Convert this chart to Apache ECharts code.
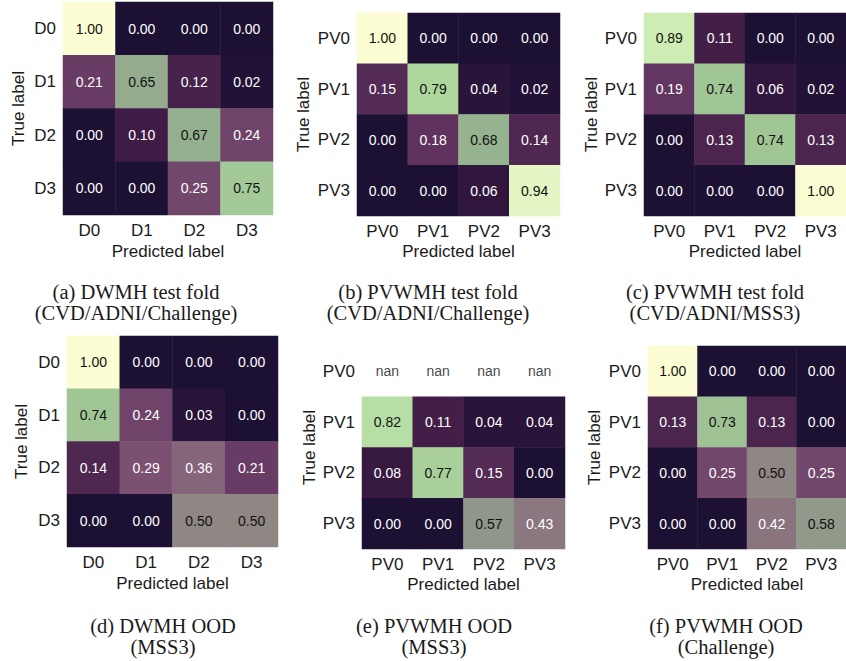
<!DOCTYPE html>
<html>
<head>
<meta charset="utf-8">
<script src="https://cdn.jsdelivr.net/npm/echarts@6/dist/echarts.min.js"></script>
<style>
html,body{margin:0;padding:0;background:#fff;}
#chart{width:846px;height:661px;}
</style>
</head>
<body>
<div id="chart"></div>
<script>
// ---- data ----
const dLabels = ['D0', 'D1', 'D2', 'D3'];
const pvLabels = ['PV0', 'PV1', 'PV2', 'PV3'];

const dwmhTest = [
  [1.00, 0.00, 0.00, 0.00],
  [0.21, 0.65, 0.12, 0.02],
  [0.00, 0.10, 0.67, 0.24],
  [0.00, 0.00, 0.25, 0.75]
];
const pvwmhTestChallenge = [
  [1.00, 0.00, 0.00, 0.00],
  [0.15, 0.79, 0.04, 0.02],
  [0.00, 0.18, 0.68, 0.14],
  [0.00, 0.00, 0.06, 0.94]
];
const pvwmhTestMss3 = [
  [0.89, 0.11, 0.00, 0.00],
  [0.19, 0.74, 0.06, 0.02],
  [0.00, 0.13, 0.74, 0.13],
  [0.00, 0.00, 0.00, 1.00]
];
const dwmhOodMss3 = [
  [1.00, 0.00, 0.00, 0.00],
  [0.74, 0.24, 0.03, 0.00],
  [0.14, 0.29, 0.36, 0.21],
  [0.00, 0.00, 0.50, 0.50]
];
const pvwmhOodMss3 = [
  [NaN, NaN, NaN, NaN],
  [0.82, 0.11, 0.04, 0.04],
  [0.08, 0.77, 0.15, 0.00],
  [0.00, 0.00, 0.57, 0.43]
];
const pvwmhOodChallenge = [
  [1.00, 0.00, 0.00, 0.00],
  [0.13, 0.73, 0.13, 0.00],
  [0.00, 0.25, 0.50, 0.25],
  [0.00, 0.00, 0.42, 0.58]
];

const captionsTop = ['(a) DWMH test fold\n(CVD/ADNI/Challenge)',
                     '(b) PVWMH test fold\n(CVD/ADNI/Challenge)',
                     '(c) PVWMH test fold\n(CVD/ADNI/MSS3)'];
const captionsBot = ['(d) DWMH OOD\n(MSS3)', '(e) PVWMH OOD\n(MSS3)', '(f) PVWMH OOD\n(Challenge)'];

// ---- layout / style ----
const SANS = '"Liberation Sans", Arial, sans-serif';
const SERIF = '"Liberation Serif", "DejaVu Serif", serif';
const cmapStops = ['#1c1033', '#3f1c45', '#673964', '#7d5474', '#89707e', '#8f8784',
                   '#909d8b', '#97b890', '#b1da9f', '#d0efb6', '#fdfdd3'];

const panels = [
  {m: dwmhTest,          cats: dLabels,  grid: {left: 63,  top: 2,   width: 210, height: 213}, yGap: 36, xGap: 28},
  {m: pvwmhTestChallenge,cats: pvLabels, grid: {left: 357, top: 13,  width: 203, height: 203}, yGap: 45, xGap: 27},
  {m: pvwmhTestMss3,     cats: pvLabels, grid: {left: 644, top: 13,  width: 204, height: 203}, yGap: 44, xGap: 27},
  {m: dwmhOodMss3,       cats: dLabels,  grid: {left: 67,  top: 336, width: 211, height: 211}, yGap: 37, xGap: 28},
  {m: pvwmhOodMss3,      cats: pvLabels, grid: {left: 362, top: 346, width: 203, height: 203}, yGap: 44, xGap: 27},
  {m: pvwmhOodChallenge, cats: pvLabels, grid: {left: 648, top: 346, width: 203, height: 203}, yGap: 45, xGap: 27}
];

const grids = [], xAxes = [], yAxes = [], series = [], heatIdx = [];
panels.forEach((p, i) => {
  grids.push(Object.assign({containLabel: false}, p.grid));
  xAxes.push({
    type: 'category', gridIndex: i, data: p.cats, position: 'bottom',
    axisLine: {show: false}, axisTick: {show: false}, splitLine: {show: false},
    axisLabel: {fontFamily: SANS, fontSize: 17, color: '#1a1a1a', margin: 7},
    name: 'Predicted label', nameLocation: 'middle', nameGap: p.xGap,
    nameTextStyle: {fontFamily: SANS, fontSize: 17, color: '#1a1a1a'}
  });
  yAxes.push({
    type: 'category', gridIndex: i, data: p.cats, inverse: true,
    axisLine: {show: false}, axisTick: {show: false}, splitLine: {show: false},
    axisLabel: {fontFamily: SANS, fontSize: 17, color: '#1a1a1a', margin: 7},
    name: 'True label', nameLocation: 'middle', nameGap: p.yGap, nameRotate: 90,
    nameTextStyle: {fontFamily: SANS, fontSize: 17, color: '#1a1a1a'}
  });
  const cells = [], nans = [];
  p.m.forEach((row, r) => row.forEach((v, c) => {
    if (isNaN(v)) nans.push([c, r]);
    else cells.push([c, r, v]);
  }));
  heatIdx.push(series.length);
  series.push({
    type: 'heatmap', xAxisIndex: i, yAxisIndex: i, data: cells,
    itemStyle: {borderWidth: 0},
    emphasis: {disabled: true},
    label: {
      show: true,
      formatter: (prm) => {
        const v = prm.value[2];
        return (v >= 0.5 ? '{k|' : '{w|') + v.toFixed(2) + '}';
      },
      rich: {
        k: {fontFamily: SANS, fontSize: 14, color: '#111'},
        w: {fontFamily: SANS, fontSize: 14, color: '#ffffff'}
      }
    }
  });
  if (nans.length) {
    series.push({
      type: 'scatter', xAxisIndex: i, yAxisIndex: i, data: nans,
      symbolSize: 0, silent: true,
      label: {show: true, position: 'inside', formatter: 'nan',
              fontFamily: SANS, fontSize: 14, color: '#111'}
    });
  }
});

const captionX = [136, 428, 715];
const captionXBot = [163, 434, 726];
const graphics = [];
function cap(text, x, y) {
  graphics.push({type: 'text', x: x, y: y, silent: true,
    style: {text: text, align: 'center', verticalAlign: 'middle', lineHeight: 20.5,
            fontFamily: SERIF, fontSize: 20.5, fill: '#1a1a1a'}});
}
for (let k = 0; k < 3; k++) {
  cap(captionsTop[k], captionX[k], 302.5);
  cap(captionsBot[k], captionXBot[k], 636.5);
}

const chart = echarts.init(document.getElementById('chart'), null, {renderer: 'svg'});
chart.setOption({
  animation: false,
  backgroundColor: '#ffffff',
  grid: grids,
  xAxis: xAxes,
  yAxis: yAxes,
  visualMap: {
    show: false, type: 'continuous', min: 0, max: 1, dimension: 2,
    seriesIndex: heatIdx,
    inRange: {color: cmapStops}
  },
  series: series,
  graphic: graphics
});
</script>
</body>
</html>
